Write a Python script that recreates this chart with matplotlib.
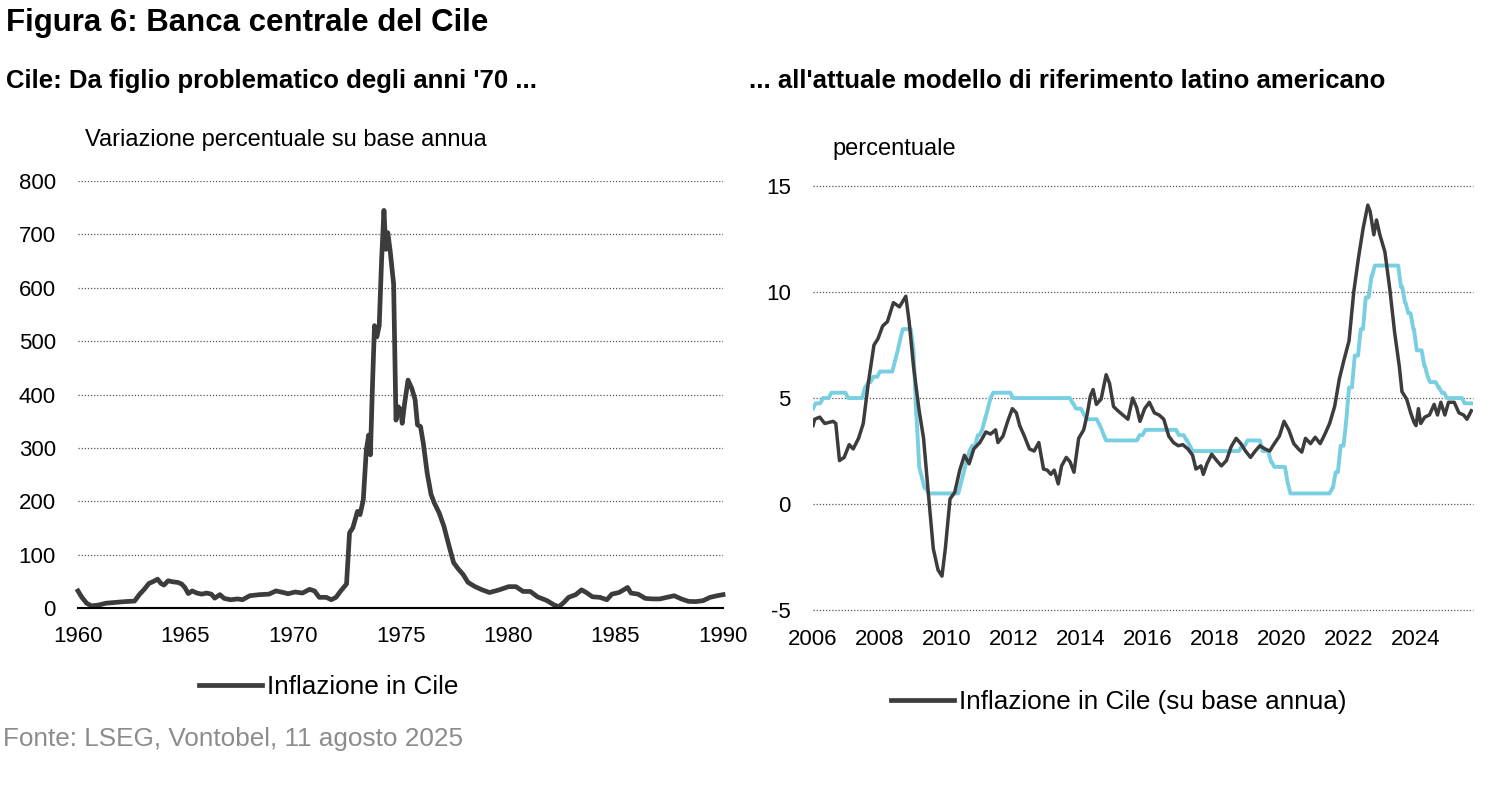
import matplotlib
matplotlib.use("Agg")
import matplotlib.pyplot as plt
from matplotlib.lines import Line2D

plt.rcParams["font.family"] = ["Liberation Sans", "DejaVu Sans"]
plt.rcParams["axes.unicode_minus"] = False

# Left panel: Chile CPI inflation 1960-1990 (% y/y)
years_70s = [1960.0, 1960.18, 1960.4, 1960.62, 1960.96, 1961.3, 1961.74, 1962.19, 1962.63, 1962.86,
             1963.08, 1963.3, 1963.52, 1963.7, 1963.86, 1964.0, 1964.19, 1964.42, 1964.64, 1964.82,
             1964.97, 1965.13, 1965.31, 1965.53, 1965.76, 1965.98, 1966.2, 1966.36, 1966.6, 1966.8,
             1967.09, 1967.43, 1967.65, 1967.99, 1968.43, 1968.88, 1969.21, 1969.55, 1969.77, 1970.1,
             1970.44, 1970.77, 1971.0, 1971.22, 1971.55, 1971.78, 1972.0, 1972.22, 1972.49, 1972.63,
             1972.78, 1973.0, 1973.12, 1973.27, 1973.41, 1973.52, 1973.6, 1973.7, 1973.79, 1973.9,
             1974.01, 1974.12, 1974.23, 1974.32, 1974.41, 1974.52, 1974.68, 1974.79, 1974.9, 1975.01,
             1975.08, 1975.19, 1975.35, 1975.53, 1975.68, 1975.79, 1975.93, 1976.06, 1976.24, 1976.42,
             1976.57, 1976.8, 1977.02, 1977.24, 1977.47, 1977.69, 1977.91, 1978.14, 1978.47, 1978.8,
             1979.14, 1979.59, 1980.03, 1980.37, 1980.7, 1981.04, 1981.37, 1981.82, 1982.15, 1982.37,
             1982.6, 1982.82, 1983.15, 1983.42, 1983.64, 1983.93, 1984.27, 1984.6, 1984.83, 1985.16,
             1985.38, 1985.56, 1985.72, 1986.05, 1986.39, 1986.72, 1987.06, 1987.39, 1987.73, 1988.06,
             1988.4, 1988.73, 1989.07, 1989.4, 1989.73, 1990.0]
infl_70s = [32, 20, 9, 4, 5.6, 9, 10.5, 12, 13, 25.5,
            35, 46, 50, 54, 46, 43, 51, 49, 48, 45,
            38.5, 27, 32, 28, 26, 28, 26, 18.5, 25, 18,
            15.5, 17, 15.5, 23, 25, 26, 32, 29, 26.7, 30,
            28, 35, 32, 20, 20, 15.5, 20, 32, 45, 141,
            150, 181, 175, 203, 296, 324, 287, 421, 529, 508,
            529, 651, 745, 672, 703, 669, 607, 352, 377, 371,
            346, 383, 427, 411, 390, 343, 340, 309, 253, 213,
            197, 178, 153, 119, 85, 73, 63, 48, 40, 34,
            29, 34, 40, 40, 31, 31, 21, 13.7, 5.6, 2.5,
            10.5, 20, 25, 34, 29, 21, 20, 15.5, 26, 29,
            34, 38.5, 28, 26, 18, 17, 17, 20, 23, 17,
            12.4, 12, 13.7, 20, 23, 25]

# Right panel: Chile CPI inflation 2006-2025 (% y/y)
years_now = [2006.0, 2006.05, 2006.2, 2006.35, 2006.6, 2006.68, 2006.79, 2006.93, 2007.08, 2007.2,
             2007.36, 2007.5, 2007.65, 2007.82, 2007.94, 2008.08, 2008.22, 2008.4, 2008.58, 2008.77,
             2008.87, 2009.0, 2009.16, 2009.3, 2009.44, 2009.59, 2009.73, 2009.85, 2009.95, 2010.09,
             2010.23, 2010.38, 2010.52, 2010.66, 2010.8, 2010.98, 2011.16, 2011.3, 2011.45, 2011.52,
             2011.67, 2011.81, 2011.95, 2012.07, 2012.17, 2012.31, 2012.46, 2012.6, 2012.74, 2012.88,
             2012.99, 2013.1, 2013.2, 2013.32, 2013.42, 2013.56, 2013.67, 2013.79, 2013.93, 2014.08,
             2014.18, 2014.28, 2014.36, 2014.46, 2014.6, 2014.75, 2014.85, 2014.97, 2015.1, 2015.25,
             2015.4, 2015.54, 2015.66, 2015.76, 2015.9, 2016.04, 2016.19, 2016.33, 2016.47, 2016.62,
             2016.76, 2016.9, 2017.04, 2017.19, 2017.33, 2017.43, 2017.58, 2017.65, 2017.76, 2017.9,
             2018.05, 2018.19, 2018.34, 2018.48, 2018.63, 2018.77, 2018.91, 2019.06, 2019.2, 2019.34,
             2019.49, 2019.63, 2019.77, 2019.92, 2020.06, 2020.2, 2020.35, 2020.49, 2020.59, 2020.7,
             2020.85, 2020.99, 2021.14, 2021.28, 2021.42, 2021.57, 2021.71, 2021.85, 2022.0, 2022.14,
             2022.28, 2022.42, 2022.56, 2022.63, 2022.74, 2022.82, 2022.92, 2023.07, 2023.22, 2023.36,
             2023.5, 2023.58, 2023.72, 2023.84, 2023.94, 2024.0, 2024.07, 2024.14, 2024.26, 2024.4,
             2024.54, 2024.64, 2024.74, 2024.86, 2024.97, 2025.14, 2025.28, 2025.42, 2025.52, 2025.65]
infl_now = [3.7, 4.0, 4.1, 3.8, 3.9, 3.8, 2.05, 2.2, 2.8, 2.6,
            3.1, 3.8, 5.7, 7.5, 7.8, 8.4, 8.6, 9.5, 9.3, 9.8,
            8.6, 6.5, 4.5, 3.1, 0.55, -2.1, -3.1, -3.4, -2.1, 0.24,
            0.55, 1.6, 2.3, 1.9, 2.6, 2.9, 3.4, 3.3, 3.5, 2.9,
            3.2, 3.9, 4.5, 4.3, 3.7, 3.2, 2.6, 2.5, 2.9, 1.65,
            1.6, 1.4, 1.6, 0.95, 1.8, 2.2, 2.0, 1.5, 3.1, 3.5,
            4.2, 5.1, 5.4, 4.7, 4.95, 6.1, 5.7, 4.6, 4.4, 4.2,
            4.0, 5.0, 4.55, 3.9, 4.5, 4.8, 4.3, 4.2, 4.0, 3.2,
            2.9, 2.75, 2.8, 2.6, 2.3, 1.65, 1.8, 1.4, 1.9, 2.35,
            2.05, 1.8, 2.05, 2.7, 3.1, 2.85, 2.5, 2.2, 2.5, 2.75,
            2.6, 2.5, 2.85, 3.2, 3.9, 3.5, 2.85, 2.6, 2.45, 3.1,
            2.85, 3.15, 2.85, 3.3, 3.8, 4.6, 5.9, 6.8, 7.7, 10.0,
            11.6, 13.0, 14.1, 13.8, 12.7, 13.4, 12.7, 11.9, 10.1, 8.1,
            6.5, 5.3, 4.95, 4.3, 3.85, 3.7, 4.5, 3.8, 4.1, 4.2,
            4.7, 4.2, 4.8, 4.2, 4.8, 4.8, 4.3, 4.2, 4.0, 4.4]

# Monetary policy rate: date of each change and the new level
rate_dates = [2006.0, 2006.08, 2006.3, 2006.55, 2007.05, 2007.55, 2007.65, 2007.8, 2008.0, 2008.45,
              2008.53, 2008.6, 2008.68, 2009.0, 2009.08, 2009.17, 2009.25, 2009.33, 2009.45, 2010.42,
              2010.5, 2010.58, 2010.67, 2010.75, 2010.92, 2011.05, 2011.13, 2011.22, 2011.3, 2011.38,
              2011.97, 2013.75, 2013.85, 2014.08, 2014.17, 2014.55, 2014.62, 2014.68, 2014.75, 2015.75,
              2015.92, 2016.92, 2017.15, 2017.25, 2017.33, 2018.8, 2018.97, 2019.42, 2019.67, 2019.77,
              2020.17, 2020.25, 2021.5, 2021.6, 2021.75, 2021.92, 2022.0, 2022.17, 2022.35, 2022.5,
              2022.67, 2022.77, 2023.55, 2023.67, 2023.77, 2023.92, 2024.02, 2024.25, 2024.35, 2024.42,
              2024.67, 2024.77, 2024.92, 2025.45]
rate_values = [4.5, 4.75, 5.0, 5.25, 5.0, 5.5, 5.75, 6.0, 6.25, 6.75,
               7.25, 7.75, 8.25, 7.25, 4.25, 1.75, 1.25, 0.75, 0.5, 1.0,
               1.5, 2.0, 2.5, 2.75, 3.25, 3.5, 4.0, 4.5, 5.0, 5.25,
               5.0, 4.75, 4.5, 4.25, 4.0, 3.75, 3.5, 3.25, 3.0, 3.25,
               3.5, 3.25, 3.0, 2.75, 2.5, 2.75, 3.0, 2.5, 2.0, 1.75,
               1.0, 0.5, 0.75, 1.5, 2.75, 4.0, 5.5, 7.0, 8.25, 9.75,
               10.75, 11.25, 10.25, 9.5, 9.0, 8.25, 7.25, 6.5, 6.0, 5.75,
               5.5, 5.25, 5.0, 4.75]
rate_end = 2025.65

DARK = "#3c3c3c"
CYAN = "#79cfe2"
GRID = "#555555"
MONTH = 1 / 12

# monthly series are drawn as lines, so each rate change shows as a one-month ramp
rate_x, rate_y = [], []
for i, (d, v) in enumerate(zip(rate_dates, rate_values)):
    nxt = rate_dates[i + 1] if i + 1 < len(rate_dates) else rate_end + MONTH
    rate_x += [d, max(d, nxt - MONTH)]
    rate_y += [v, v]

fig = plt.figure(figsize=(15, 8.11), dpi=100)

fig.text(0.004, 0.962, "Figura 6: Banca centrale del Cile", fontsize=22.5, fontweight="bold", va="baseline")
fig.text(0.004, 0.8915, "Cile: Da figlio problematico degli anni '70 ...", fontsize=18.5,
         fontweight="bold", va="baseline")
fig.text(0.4995, 0.8915, "... all'attuale modello di riferimento latino americano", fontsize=18.5,
         fontweight="bold", va="baseline")
fig.text(0.0567, 0.82, "Variazione percentuale su base annua", fontsize=17, va="baseline")
fig.text(0.555, 0.809, "percentuale", fontsize=17, va="baseline")
fig.text(0.002, 0.08, "Fonte: LSEG, Vontobel, 11 agosto 2025", fontsize=18.8, color="#8c8c8c",
         va="baseline")

# Left panel
ax1 = fig.add_axes([0.052, 0.2503, 0.430, 0.5265])
ax1.plot(years_70s, infl_70s, color=DARK, lw=3.4, solid_joinstyle="round", clip_on=False)
ax1.set_xlim(1960, 1990)
ax1.set_ylim(0, 800)
ax1.set_xticks(range(1960, 1991, 5))
ax1.set_yticks(range(0, 801, 100))
ax1.grid(axis="y", linestyle=(0, (1, 1.5)), color=GRID, lw=0.9)
for s in ["top", "right", "left"]:
    ax1.spines[s].set_visible(False)
ax1.spines["bottom"].set_color("black")
ax1.spines["bottom"].set_linewidth(1.5)
ax1.tick_params(length=0, labelsize=16, pad=13)
ax1.tick_params(axis="y", pad=16)
ax1.set_axisbelow(True)
for lbl in ax1.get_yticklabels() + ax1.get_xticklabels():
    lbl.set_clip_on(False)

# Right panel
ax2 = fig.add_axes([0.542, 0.2478, 0.440, 0.5228])
ax2.plot(rate_x, rate_y, color=CYAN, lw=2.8, solid_joinstyle="round")
ax2.plot(years_now, infl_now, color=DARK, lw=2.5, solid_joinstyle="round")
ax2.set_xlim(2006, 2025.7)
ax2.set_ylim(-5, 15)
ax2.set_xticks(range(2006, 2025, 2))
ax2.set_yticks([-5, 0, 5, 10, 15])
ax2.grid(axis="y", linestyle=(0, (1, 1.5)), color=GRID, lw=0.9, clip_on=False)
for gl in ax2.get_ygridlines():
    gl.set_clip_on(False)
for s in ax2.spines.values():
    s.set_visible(False)
ax2.tick_params(length=0, labelsize=16, pad=14)
ax2.tick_params(axis="y", pad=16)
ax2.set_axisbelow(True)

fig.legend(handles=[Line2D([], [], color=DARK, lw=3.4)], labels=["Inflazione in Cile"],
           loc="center", bbox_to_anchor=(0.219, 0.153), frameon=False, fontsize=18.8,
           handlelength=2.4, handletextpad=0.2)
fig.legend(handles=[Line2D([], [], color=DARK, lw=3.4)], labels=["Inflazione in Cile (su base annua)"],
           loc="center", bbox_to_anchor=(0.746, 0.134), frameon=False, fontsize=18.8,
           handlelength=2.4, handletextpad=0.2)

fig.savefig("out.png", dpi=100)
